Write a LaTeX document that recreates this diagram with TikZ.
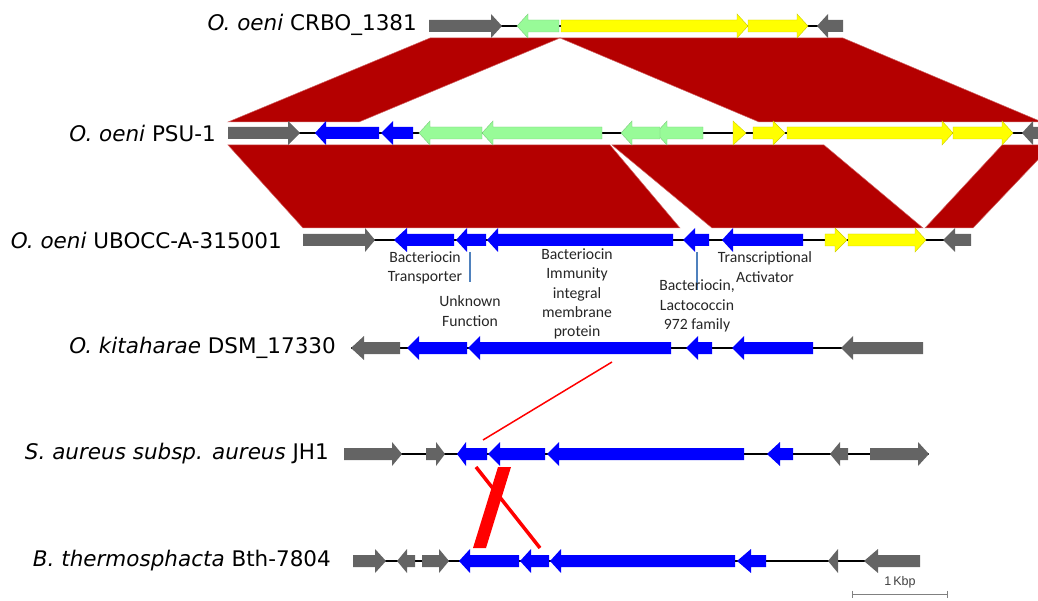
\documentclass[tikz,border=0pt]{standalone}
\usepackage{fontspec}
\newfontfamily\spfont{DejaVu Sans}[ItalicFont={DejaVu Sans Oblique}]
\newfontfamily\lblfont{Carlito}
\newfontfamily\sbfont{Liberation Sans}
\definecolor{gengray}{RGB}{100,100,100}
\definecolor{genblue}{RGB}{0,0,255}
\definecolor{gengreen}{RGB}{152,251,152}
\definecolor{genyellow}{RGB}{255,255,0}
\definecolor{bandred}{RGB}{180,0,0}
\definecolor{brightred}{RGB}{255,0,0}
\definecolor{annblue}{RGB}{79,129,189}
\tikzset{
  G/.style={fill=gengray},
  B/.style={fill=genblue},
  N/.style={fill=gengreen, draw=gengreen!80!black, line width=0.4},
  Y/.style={fill=genyellow, draw=genyellow!80!black, line width=0.4},
  band/.style={fill=bandred, draw=bandred!60!white, line width=0.5},
  backbone/.style={draw=black, line width=2.6},
  species/.style={anchor=east, inner sep=0pt, font=\spfont\fontsize{21.5}{25}\selectfont},
  genelabel/.style={align=center, inner sep=0pt, text=black!85, font=\lblfont\fontsize{15.7}{19.4}\selectfont},
  annline/.style={draw=annblue, line width=1.4},
}
% right-pointing gene: y, start, head base, tip, style
\newcommand\gR[5]{\path[#5] (#2,#1-6) -- (#3,#1-6) -- (#3,#1-12) -- (#4,#1) -- (#3,#1+12) -- (#3,#1+6) -- (#2,#1+6) -- cycle;}
% left-pointing gene: y, tip, head base, end, style
\newcommand\gL[5]{\path[#5] (#2,#1) -- (#3,#1-12) -- (#3,#1-6) -- (#4,#1-6) -- (#4,#1+6) -- (#3,#1+6) -- (#3,#1+12) -- cycle;}
\begin{document}
\begin{tikzpicture}[x=1pt,y=-1pt]
\useasboundingbox (0,0) rectangle (1038,601);
\clip (0,0) rectangle (1038,601);

% homology bands
\path[band] (430,38) -- (560,38) -- (359,122) -- (228,122) -- cycle;
\path[band] (560,38) -- (843,38) -- (1042,122) -- (759,122) -- cycle;
\path[band] (228,145) -- (610,145) -- (680,228) -- (303,228) -- cycle;
\path[band] (612,145) -- (824,145) -- (923,228) -- (712,228) -- cycle;
\path[band] (1002,145) -- (1052,145) -- (973,228) -- (925,228) -- cycle;

% Row 1: CRBO_1381
\node[species] (l1) at (417,25) {\itshape O. oeni\/\upshape{} CRBO\_1381};
\coordinate (b1s) at (429,26); \coordinate (b1e) at (843,26);
\draw[backbone] (b1s) -- (b1e);
\gR{26}{429}{491}{502}{G}
\gL{26}{517}{528}{559}{N}
\gR{26}{561}{737}{748}{Y}
\gR{26}{748}{797}{808}{Y}
\gL{26}{817}{828}{843}{G}

% Row 2: PSU-1
\node[species] (l2) at (216,133) {\itshape O. oeni\/\upshape{} PSU-1};
\coordinate (b2s) at (228,133); \coordinate (b2e) at (1038,133);
\draw[backbone] (b2s) -- (b2e);
\gR{133}{228}{288}{300}{G}
\gL{133}{315}{326}{379}{B}
\gL{133}{381}{393}{413}{B}
\gL{133}{419}{430}{482}{N}
\gL{133}{482}{493}{602}{N}
\gL{133}{656}{667}{703}{N}
\gL{133}{621}{632}{660}{N}
\gR{133}{733}{733}{746}{Y}
\gR{133}{753}{773}{785}{Y}
\gR{133}{787}{942}{953}{Y}
\gR{133}{953}{1002}{1013}{Y}
\gL{133}{1022}{1033}{1048}{G}

% Row 3: UBOCC-A-315001
\node[species] (l3) at (282,240) {\itshape O. oeni\/\upshape{} UBOCC-A-315001};
\coordinate (b3s) at (303,240); \coordinate (b3e) at (971,240);
\draw[backbone] (b3s) -- (b3e);
\gR{240}{303}{365}{375}{G}
\gL{240}{394}{407}{454}{B}
\gL{240}{456}{467}{486}{B}
\gL{240}{487}{498}{673}{B}
\gL{240}{683}{695}{709}{B}
\gL{240}{722}{733}{803}{B}
\gR{240}{825}{835}{847}{Y}
\gR{240}{848}{915}{926}{Y}
\gL{240}{943}{955}{971}{G}

% gene annotations
\coordinate (a1t) at (470,252); \coordinate (a1b) at (470,282);
\coordinate (a2t) at (697,252); \coordinate (a2b) at (697,290);
\draw[annline] (a1t) -- (a1b);
\draw[annline] (a2t) -- (a2b);
\node[genelabel] (t1) at (425,268) {Bacteriocin\\Transporter};
\node[genelabel] (t2) at (470,311) {Unknown\\Function};
\node[genelabel] (t3) at (577,294) {Bacteriocin\\Immunity\\integral\\membrane\\protein};
\node[genelabel] (t4) at (697,306) {Bacteriocin,\\Lactococcin\\972 family};
\node[genelabel] (t5) at (765,267) {Transcriptional\\Activator};

% Row 4: O. kitaharae
\node[species] (l4) at (336,348) {\itshape O. kitaharae\/\upshape{} DSM\_17330};
\coordinate (b4s) at (351,348); \coordinate (b4e) at (923,348);
\draw[backbone] (b4s) -- (b4e);
\gL{348}{351}{364}{400}{G}
\gL{348}{407}{419}{467}{B}
\gL{348}{468}{480}{671}{B}
\gL{348}{686}{698}{712}{B}
\gL{348}{732}{744}{813}{B}
\gL{348}{841}{853}{923}{G}

% Row 5: S. aureus
\node[species] (l5) at (329,454) {\itshape S. aureus subsp. aureus\/\upshape{} JH1};
\coordinate (b5s) at (344,454); \coordinate (b5e) at (929,454);
\draw[backbone] (b5s) -- (b5e);
\gR{454}{344}{392}{402}{G}
\gR{454}{426}{436}{445}{G}
\gL{454}{457}{466}{487}{B}
\gL{454}{488}{500}{545}{B}
\gL{454}{547}{559}{744}{B}
\gL{454}{767}{780}{793}{B}
\gL{454}{830}{840}{848}{G}
\gR{454}{870}{918}{929}{G}

% Row 6: B. thermosphacta
\node[species] (l6) at (331,561) {\itshape B. thermosphacta\/\upshape{} Bth-7804};
\coordinate (b6s) at (353,561); \coordinate (b6e) at (920,561);
\draw[backbone] (b6s) -- (b6e);
\gR{561}{353}{375}{386}{G}
\gL{561}{397}{407}{415}{G}
\gR{561}{422}{439}{449}{G}
\gL{561}{459}{470}{519}{B}
\gL{561}{520}{531}{549}{B}
\gL{561}{550}{561}{735}{B}
\gL{561}{737}{751}{766}{B}
\gL{561}{828}{838}{838}{G}
\gL{561}{864}{878}{920}{G}

% red homology links
\coordinate (k1) at (612,362); \coordinate (k2) at (483,440);
\draw[brightred, line width=1.5] (k1) -- (k2);
\fill[brightred] (473,548) -- (486,548) -- (511,467) -- (498,467) -- cycle;
\coordinate (x1) at (476,467); \coordinate (x2) at (540,548);
\draw[brightred, line width=3.5] (x1) -- (x2);

% scale bar
\coordinate (s1) at (852,594); \coordinate (s2) at (947,594);
\draw[black!50, line width=1] (s1) -- (s2);
\draw[black!50, line width=1] (852,590.5) -- (852,597.5);
\draw[black!50, line width=1] (947,590.5) -- (947,597.5);
\node[inner sep=0pt, text=black!75, font=\sbfont\fontsize{12.5}{14}\selectfont] (sb) at (900,582) {1\,Kbp};
\end{tikzpicture}
\end{document}
